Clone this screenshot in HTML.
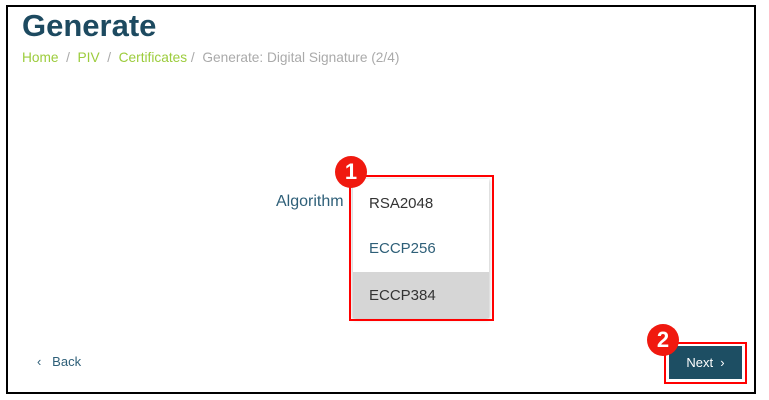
<!DOCTYPE html>
<html><head><style>
body{margin:0;width:769px;height:400px;background:#fff;position:relative;overflow:hidden;font-family:"Liberation Sans",sans-serif}
.a{position:absolute}
</style></head><body>
<div class="a" style="left:6px;top:5px;width:746px;height:385px;border:2.5px solid #000"></div>
<div class="a" style="left:22px;top:8px;font-size:31px;font-weight:bold;color:#1d4a60">Generate</div>
<div class="a" style="left:22px;top:50px;font-size:13.7px;color:#9ccc3c;white-space:nowrap">Home <span style="color:#aaa">&nbsp;/&nbsp;</span> PIV <span style="color:#aaa">&nbsp;/&nbsp;</span> Certificates <span style="color:#aaa">/ &nbsp;Generate: Digital Signature (2/4)</span></div>
<div class="a" style="left:276px;top:193px;font-size:16px;color:#2e5f78">Algorithm</div>
<div class="a" style="left:353px;top:179px;width:136px;height:139px;background:#fff;box-shadow:0 1px 4px rgba(0,0,0,.3)"></div>
<div class="a" style="left:353px;top:272px;width:136px;height:46px;background:#d6d6d6"></div>
<div class="a" style="left:369px;top:195px;font-size:15px;color:#333">RSA2048</div>
<div class="a" style="left:369px;top:240px;font-size:15px;color:#2e5f78">ECCP256</div>
<div class="a" style="left:369px;top:287px;font-size:15px;color:#333">ECCP384</div>
<div class="a" style="left:349px;top:175px;width:141px;height:142px;border:2.5px solid #f00"></div>
<div class="a" style="left:335px;top:156px;width:32px;height:32px;border-radius:50%;background:#f0190f;color:#fff;font-weight:bold;font-size:22px;text-align:center;line-height:32px">1</div>
<div class="a" style="left:37px;top:354px;font-size:13px;color:#2e5f78">‹&nbsp;&nbsp; Back</div>
<div class="a" style="left:669px;top:346px;width:73px;height:33px;background:#1d4e63;color:#fff;font-size:13px;line-height:33px;text-align:center">Next &nbsp;›</div>
<div class="a" style="left:664px;top:342px;width:79px;height:38px;border:2.5px solid #f00"></div>
<div class="a" style="left:647px;top:324px;width:32px;height:32px;border-radius:50%;background:#f0190f;color:#fff;font-weight:bold;font-size:22px;text-align:center;line-height:32px">2</div>
</body></html>
